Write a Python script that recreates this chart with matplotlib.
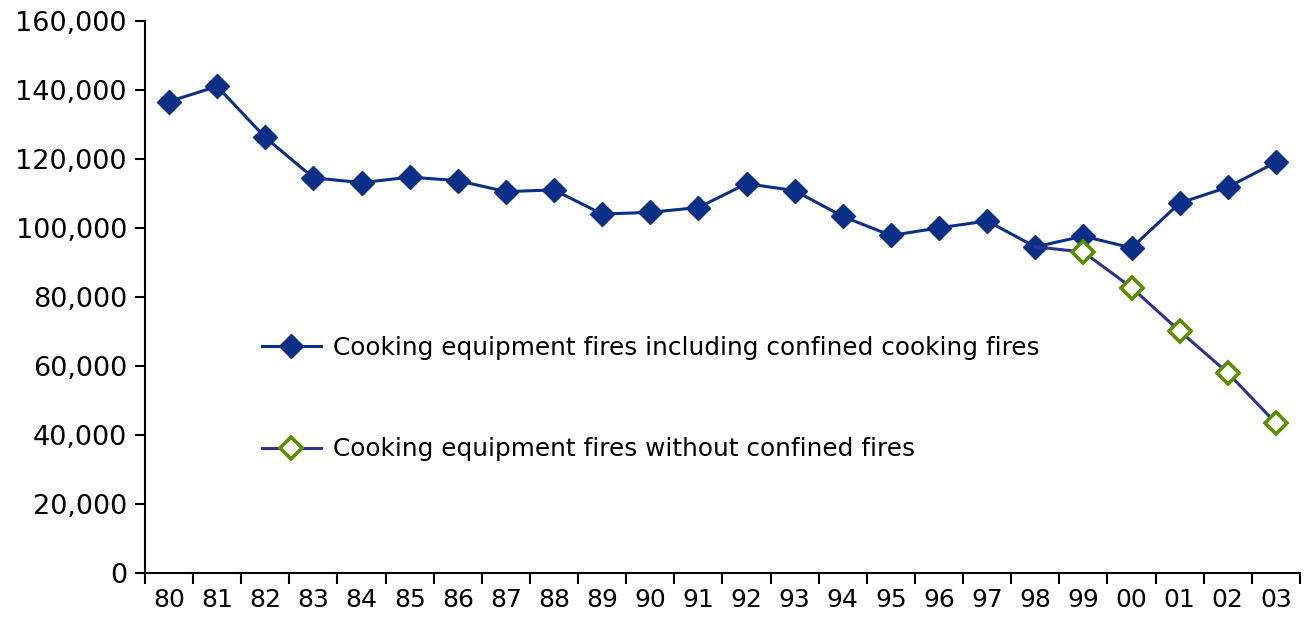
import numpy as np
import matplotlib.pyplot as plt

plt.rcParams.update({
    "font.family": "DejaVu Sans",
})

years = ['80', '81', '82', '83', '84', '85', '86', '87', '88', '89', '90', '91',
         '92', '93', '94', '95', '96', '97', '98', '99', '00', '01', '02', '03']
including = [136600, 141000, 126200, 114500, 113100, 114700, 113700, 110500,
             111000, 104000, 104500, 105900, 112800, 110800, 103300, 97800,
             100000, 102000, 94500, 97600, 94200, 107200, 111800, 119000]
# second series starts from the 98 point
without_years = ['98', '99', '00', '01', '02', '03']
without = [94500, 93000, 82700, 70100, 58000, 43400]

x = np.arange(len(years))
x2 = np.array([years.index(y) for y in without_years])

fig = plt.figure(figsize=(13.06, 6.17), dpi=100)
ax = fig.add_axes([0.111, 0.0713, 0.8844, 0.895])

ax.plot(x2, without, color='#2e3192', linewidth=2.2, marker='D', markersize=11,
        markerfacecolor='white', markeredgecolor='#5a8f00', markeredgewidth=2.6,
        markevery=list(range(1, len(without))),
        label='Cooking equipment fires without confined fires', zorder=2)
ax.plot(x, including, color='#0a2f87', linewidth=2.2, marker='D', markersize=12,
        markerfacecolor='#0a2f87', markeredgecolor='#0a2f87',
        label='Cooking equipment fires including confined cooking fires', zorder=1)

ax.set_xlim(-0.5, len(years) - 0.5)
ax.set_ylim(0, 160000)
ax.set_yticks(np.arange(0, 160001, 20000))
ax.set_yticklabels([f'{v:,}' for v in range(0, 160001, 20000)])
ax.set_xticks(x)
ax.set_xticklabels(years)
ax.set_xticks(np.arange(-0.5, len(years)), minor=True)
ax.tick_params(axis='x', which='major', length=0, pad=11, labelsize=18)
ax.tick_params(axis='x', which='minor', length=8, width=1.5, direction='out')
ax.tick_params(axis='y', length=7, width=1.5, direction='out', pad=6, labelsize=19.5)

for s in ['top', 'right']:
    ax.spines[s].set_visible(False)
for s in ['left', 'bottom']:
    ax.spines[s].set_linewidth(1.5)

h, l = ax.get_legend_handles_labels()
ax.legend(h[::-1], l[::-1], loc='upper left', bbox_to_anchor=(0.101, 0.43),
          frameon=False, fontsize=17.8, handlelength=2.4, handletextpad=0.5,
          labelspacing=3.15, borderpad=0, borderaxespad=0)

plt.savefig('out.png', dpi=100)
